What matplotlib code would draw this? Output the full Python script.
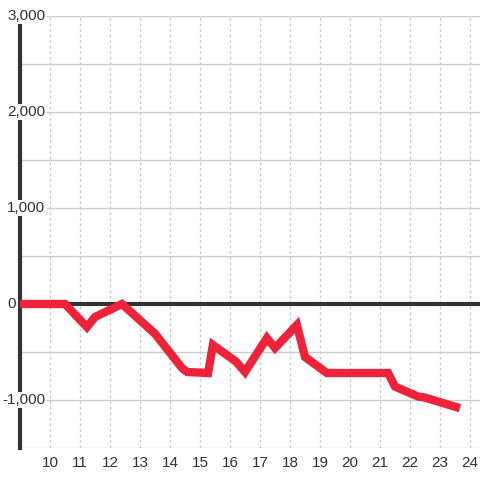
import matplotlib
matplotlib.use('Agg')
import matplotlib.pyplot as plt

plt.rcParams['font.family'] = ['Liberation Sans', 'DejaVu Sans']

# hour of day vs running value
hours = [9, 10.5, 11.23, 11.5, 12.4, 13.5, 14.4, 14.57, 15.27, 15.43, 16.2,
         16.5, 17.23, 17.5, 18.23, 18.5, 19.23, 21.27, 21.5, 22.27, 22.5, 23.53]
values = [0, 0, -240, -135, 0, -310, -667, -708, -719, -427, -600,
          -708, -354, -458, -219, -552, -719, -719, -860, -964, -975, -1073]

y_labels = [3000, 2000, 1000, 0, -1000]
y_grid = [3000, 2500, 2000, 1500, 1000, 500, 0, -500, -1000, -1500]
x_ticks = list(range(10, 25))

fig = plt.figure(figsize=(4.8, 4.8), dpi=100)
ax = fig.add_axes([20 / 480, 32 / 480, 460 / 480, 432 / 480])

ax.set_xlim(9, 9 + 460 / 30)
ax.set_ylim(-1500, 3000)

for v in y_grid:
    ax.axhline(v, color='#cccccc', lw=1, zorder=1)
for x in x_ticks:
    ax.axvline(x, color='#cccccc', lw=1, ls=(0, (2, 2)), zorder=1)

ax.axhline(0, color='#333333', lw=3, zorder=3)
ax.plot(hours, values, color='#ee2238', lw=6, zorder=4, solid_joinstyle='miter')

for s in ['top', 'right', 'bottom']:
    ax.spines[s].set_visible(False)
ax.spines['left'].set_color('#333333')
ax.spines['left'].set_linewidth(3)
ax.spines['left'].set_zorder(3)

ax.set_yticks([])
ax.set_xticks(x_ticks)
ax.set_xticklabels([str(x) for x in x_ticks])
ax.tick_params(axis='x', length=0, pad=6, labelsize=11, labelcolor='#333333')

for v in y_labels:
    txt = f'{v:,}'
    ax.text(-13 / 460 if v >= 0 else -18 / 460, v, txt, transform=ax.get_yaxis_transform(),
            ha='left', va='center', fontsize=11, color='#333333', zorder=10, clip_on=False,
            bbox=dict(facecolor='white', edgecolor='none', pad=1))

fig.savefig('out.png', dpi=100)
